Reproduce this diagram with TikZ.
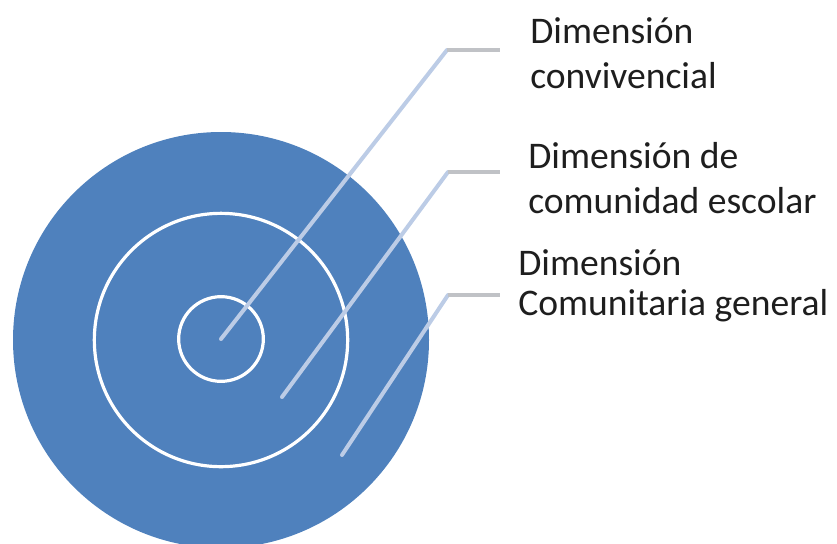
\documentclass[tikz,border=0pt]{standalone}
\usepackage{fontspec}
\setmainfont{Carlito}
\usetikzlibrary{positioning}

\tikzset{
  disk/.style={circle, draw=none, fill={rgb,255:red,79;green,129;blue,189}, inner sep=0pt},
  ring/.style={circle, draw=white, line width=2.4pt, inner sep=0pt},
  pointer/.style={draw={rgb,255:red,188;green,204;blue,230}, line width=3pt, line cap=round},
  tab/.style={draw={rgb,255:red,192;green,194;blue,198}, line width=3.6pt},
  lbl/.style={font=\fontsize{28.2}{34}\selectfont, text={rgb,255:red,30;green,30;blue,30}, inner sep=0pt, anchor=base west}
}

\begin{document}
\begin{tikzpicture}[x=0.75pt,y=0.75pt,yscale=-1,xscale=1]
\useasboundingbox (0,0) rectangle (837,543);
\clip (0,0) rectangle (837,543);

%Shape: Circles
\node[disk, minimum size=312pt] (outer) at (221,340) {};
\node[ring, minimum size=190pt] (middle) at (221,340) {};
\node[ring, minimum size=63.5pt] (core) at (221,339) {};

%Points inside the rings
\coordinate (inMid) at (282,397);
\coordinate (inOut) at (342,455);

%Elbows and ends
\coordinate (k1) at (447,50);
\coordinate (t1) at (500,50);
\coordinate (k2) at (448,172);
\coordinate (t2) at (500,172);
\coordinate (k3) at (448,295);
\coordinate (t3) at (500,295);

%Straight Lines
\draw[pointer] (core.center) -- (k1);
\draw[tab] (k1) -- (t1);
\draw[pointer] (inMid) -- (k2);
\draw[tab] (k2) -- (t2);
\draw[pointer] (inOut) -- (k3);
\draw[tab] (k3) -- (t3);

% Text Node
\node[lbl] (convA) at (530,43) {Dimensión};
\node[lbl] (convB) at (530,88) {convivencial};
% Text Node
\node[lbl] (escA) at (528,168) {Dimensión de};
\node[lbl] (escB) at (528,213) {comunidad escolar};
% Text Node
\node[lbl] (comA) at (518,275) {Dimensión};
\node[lbl] (comB) at (518,315) {Comunitaria general};

\end{tikzpicture}
\end{document}
